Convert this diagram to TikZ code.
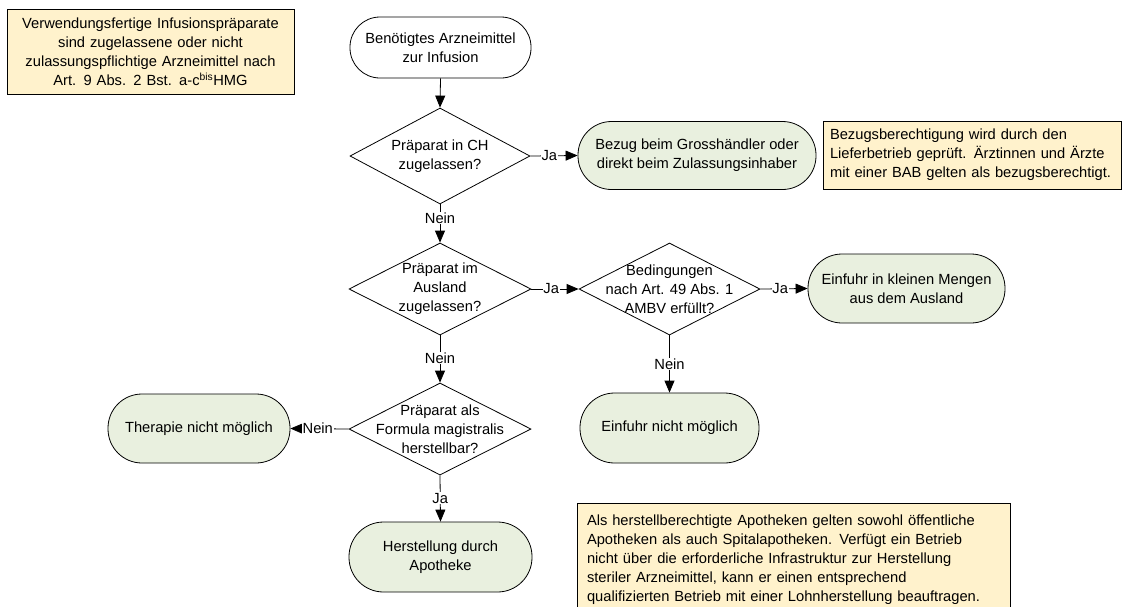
\documentclass[tikz,border=0pt]{standalone}
\usepackage{fontspec}
\setmainfont{Liberation Sans}
\usetikzlibrary{shapes.geometric,arrows.meta,shadows}
\definecolor{notefill}{HTML}{FFF2CC}
\definecolor{termfill}{HTML}{E9F0DF}
\begin{document}
\begin{tikzpicture}[x=1pt,y=-1pt,
  every node/.style={font=\fontsize{14.7}{19}\selectfont},
  term/.style={draw=black, line width=0.8pt, fill=termfill, align=center, inner sep=0pt},
  dia/.style={draw=black, line width=0.8pt, fill=white, shape=diamond, inner sep=0pt},
  note/.style={draw=black, line width=0.8pt, fill=notefill, inner xsep=10pt, inner ysep=0pt,
    drop shadow={shadow xshift=1.2pt, shadow yshift=-1.2pt, fill=gray!60, opacity=1}},
  arr/.style={draw=black, line width=0.8pt, -{Triangle[length=12pt,width=10pt]}},
  lbl/.style={fill=white, inner sep=0.8pt}
]
\useasboundingbox (0,0) rectangle (1124,606);

% notes
\node[note, align=center, text width=267pt, minimum height=85pt] (n1) at (150.5,51.5)
  {Verwendungsfertige Infusionspräparate\\sind zugelassene oder nicht\\zulassungspflichtige Arzneimittel nach\\Art. 9 Abs. 2 Bst. a-c\textsuperscript{bis}HMG};
\node[note, align=left, inner xsep=7pt, text width=284pt, minimum height=68pt] (n2) at (972,155)
  {Bezugsberechtigung wird durch den\\Lieferbetrieb geprüft. Ärztinnen und Ärzte\\mit einer BAB gelten als bezugsberechtigt.};
\node[note, align=left, text width=413pt, minimum height=113pt] (n3) at (793.5,559.5)
  {Als herstellberechtigte Apotheken gelten sowohl öffentliche\\Apotheken als auch Spitalapotheken. Verfügt ein Betrieb\\nicht über die erforderliche Infrastruktur zur Herstellung\\steriler Arzneimittel, kann er einen entsprechend\\qualifizierten Betrieb mit einer Lohnherstellung beauftragen.};

% terminals
\node[term, fill=white, minimum width=181pt, minimum height=61pt, rounded corners=30pt] (start) at (440.5,47.5)
  {Benötigtes Arzneimittel\\zur Infusion};
\node[term, minimum width=238pt, minimum height=68pt, rounded corners=33.5pt] (bezug) at (697,155.5)
  {Bezug beim Grosshändler oder\\direkt beim Zulassungsinhaber};
\node[term, minimum width=197pt, minimum height=69pt, rounded corners=34pt] (einf1) at (906.5,288.5)
  {Einfuhr in kleinen Mengen\\aus dem Ausland};
\node[term, minimum width=179pt, minimum height=70pt, rounded corners=34.5pt] (einf2) at (669.5,428)
  {Einfuhr nicht möglich};
\node[term, minimum width=182pt, minimum height=69pt, rounded corners=34pt] (ther) at (199,428.5)
  {Therapie nicht möglich};
\node[term, minimum width=183pt, minimum height=70pt, rounded corners=34.5pt] (herst) at (440.5,557)
  {Herstellung durch\\Apotheke};

% decisions
\node[dia, minimum width=180pt, minimum height=96pt,
  label={[align=center]center:Präparat in CH\\zugelassen?}] (d1) at (440,156) {};
\node[dia, minimum width=182pt, minimum height=92pt,
  label={[align=center]center:Präparat im\\Ausland\\zugelassen?}] (d2) at (440,289) {};
\node[dia, minimum width=181pt, minimum height=92pt,
  label={[align=center]center:Bedingungen\\nach Art. 49 Abs. 1\\AMBV erfüllt?}] (d3) at (669.5,289) {};
\node[dia, minimum width=182pt, minimum height=92pt,
  label={[align=center]center:Präparat als\\Formula magistralis\\herstellbar?}] (d4) at (440,429) {};

% connectors
\draw[arr] (start.south) -- (d1.north);
\draw[arr] (d1.east) -- node[lbl, pos=0.4] {Ja} (bezug.west);
\draw[arr] (d1.south) -- node[lbl, pos=0.36] {Nein} (d2.north);
\draw[arr] (d2.east) -- node[lbl, pos=0.42] {Ja} (d3.west);
\draw[arr] (d3.east) -- node[lbl, pos=0.42] {Ja} (einf1.west);
\draw[arr] (d2.south) -- node[lbl, pos=0.48] {Nein} (d4.north);
\draw[arr] (d3.south) -- node[lbl, pos=0.5] {Nein} (einf2.north);
\draw[arr] (d4.west) -- node[lbl, pos=0.53] {Nein} (ther.east);
\draw[arr] (d4.south) -- node[lbl, pos=0.49] {Ja} (herst.north);
\end{tikzpicture}
\end{document}
